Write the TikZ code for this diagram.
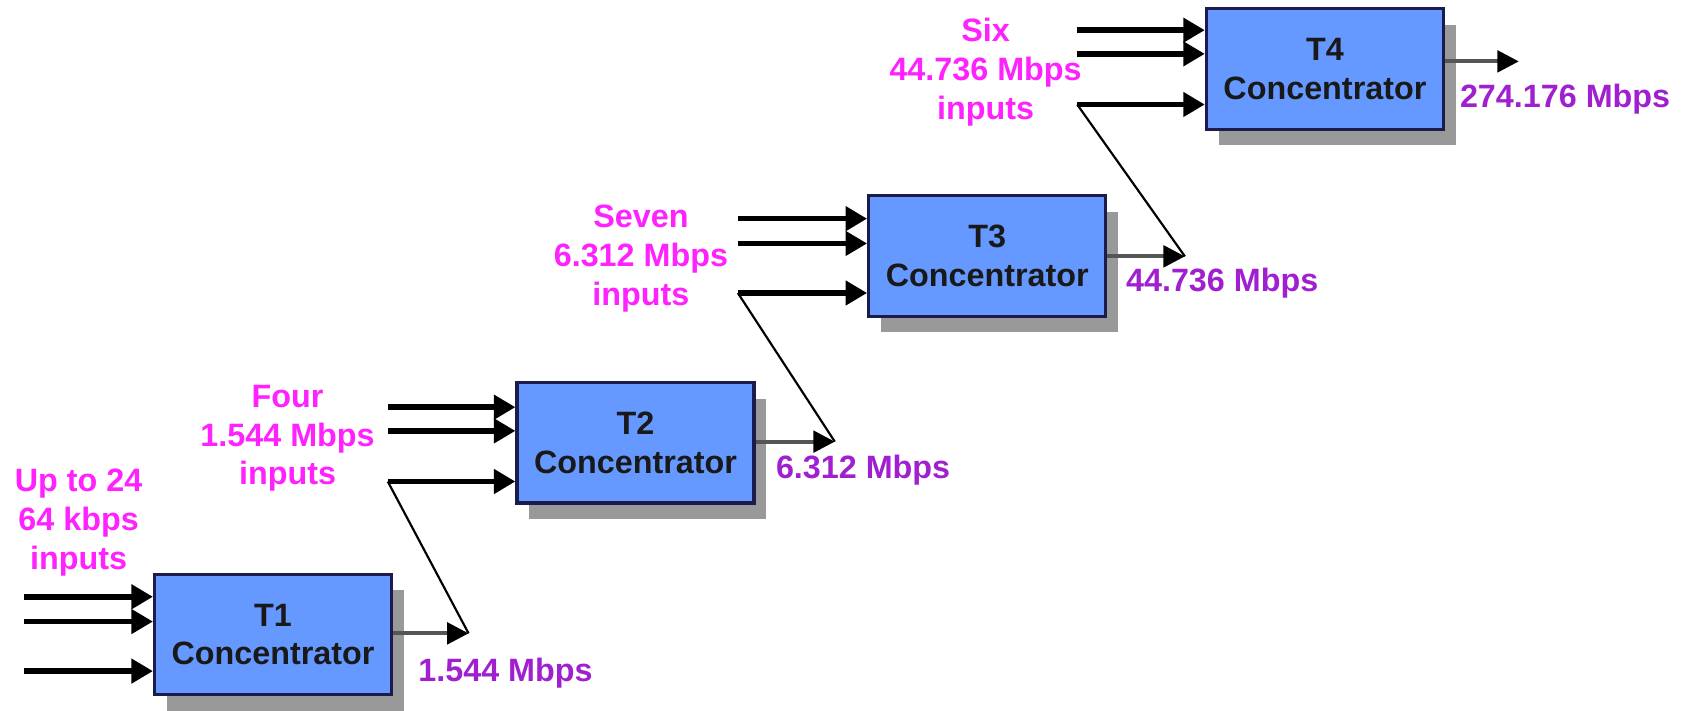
\documentclass[tikz,border=0pt]{standalone}
\usepackage{fontspec}
\setmainfont{Liberation Sans}
\usetikzlibrary{arrows.meta}
\definecolor{boxblue}{HTML}{6699FF}
\definecolor{boxedge}{HTML}{1C1C4C}
\definecolor{shadowgray}{HTML}{999999}
\definecolor{inpink}{HTML}{FF22FF}
\definecolor{outpurple}{HTML}{A020D0}
\definecolor{outgray}{HTML}{555555}
\begin{document}
\begin{tikzpicture}[x=0.5pt,y=-0.5pt,
  conc/.style={draw=boxedge,line width=1.5pt,fill=boxblue,minimum width=110pt,
    minimum height=56pt,inner sep=0pt,align=center,
    font=\fontsize{15pt}{18pt}\selectfont\bfseries,text=black!90},
  shadowbox/.style={fill=shadowgray,minimum width=110pt,minimum height=56pt,inner sep=0pt},
  inlbl/.style={text=inpink,align=center,font=\fontsize{15pt}{18pt}\selectfont\bfseries,inner sep=0pt},
  outlbl/.style={text=outpurple,anchor=west,font=\fontsize{15pt}{17pt}\selectfont\bfseries,inner sep=0pt},
  feed/.style={line width=2.6pt,-{Triangle[length=10pt,width=11pt]}},
  outflow/.style={draw=outgray,line width=1.8pt,-{Triangle[length=10pt,width=10pt,color=black]}},
  tie/.style={line width=1pt}
]
\useasboundingbox (0,0) rectangle (1568,660);

% shadows behind the concentrator boxes
\node[shadowbox] (t1s) at (265,604) {};
\node[shadowbox] (t2s) at (601.5,426) {};
\node[shadowbox] (t3s) at (928,252.5) {};
\node[shadowbox] (t4s) at (1241.5,79) {};

% concentrator boxes
\node[conc] (t1) at (253.5,589) {T1\\Concentrator};
\node[conc] (t2) at (590,411) {T2\\Concentrator};
\node[conc] (t3) at (916.5,237.5) {T3\\Concentrator};
\node[conc] (t4) at (1230,64) {T4\\Concentrator};

% input line start points
\coordinate (t1a) at (22,554);
\coordinate (t1b) at (22,577);
\coordinate (t1c) at (22,623);
\coordinate (t2a) at (360,378);
\coordinate (t2b) at (360,400);
\coordinate (t2c) at (360,447);
\coordinate (t3a) at (685,203);
\coordinate (t3b) at (685,226);
\coordinate (t3c) at (685,272);
\coordinate (t4a) at (1000,28);
\coordinate (t4b) at (1000,50);
\coordinate (t4c) at (1000,97);

% output arrow tips
\coordinate (t1out) at (435,588);
\coordinate (t2out) at (775,410);
\coordinate (t3out) at (1100,238);
\coordinate (t4out) at (1410,57);

% inputs
\foreach \b in {t1,t2,t3,t4}{
  \foreach \i in {a,b,c}{
    \draw[feed] (\b\i) -- (\b\i -| \b.west);
  }
}

% outputs
\foreach \b in {t1,t2,t3,t4}{
  \draw[outflow] (\b out -| \b.east) -- (\b out);
}

% each output feeds the next stage
\draw[tie] (t2c) -- (t1out);
\draw[tie] (t3c) -- (t2out);
\draw[tie] (t4c) -- (t3out);

% input labels
\node[inlbl] (l1) at (73,485) {Up to 24\\64 kbps\\inputs};
\node[inlbl] (l2) at (267,407) {Four\\1.544 Mbps\\inputs};
\node[inlbl] (l3) at (595,240) {Seven\\6.312 Mbps\\inputs};
\node[inlbl] (l4) at (915,67) {Six\\44.736 Mbps\\inputs};

% output rates
\node[outlbl] (o1) at (388,625) {1.544 Mbps};
\node[outlbl] (o2) at (720,436) {6.312 Mbps};
\node[outlbl] (o3) at (1045,263) {44.736 Mbps};
\node[outlbl] (o4) at (1355,92) {274.176 Mbps};
\end{tikzpicture}
\end{document}
